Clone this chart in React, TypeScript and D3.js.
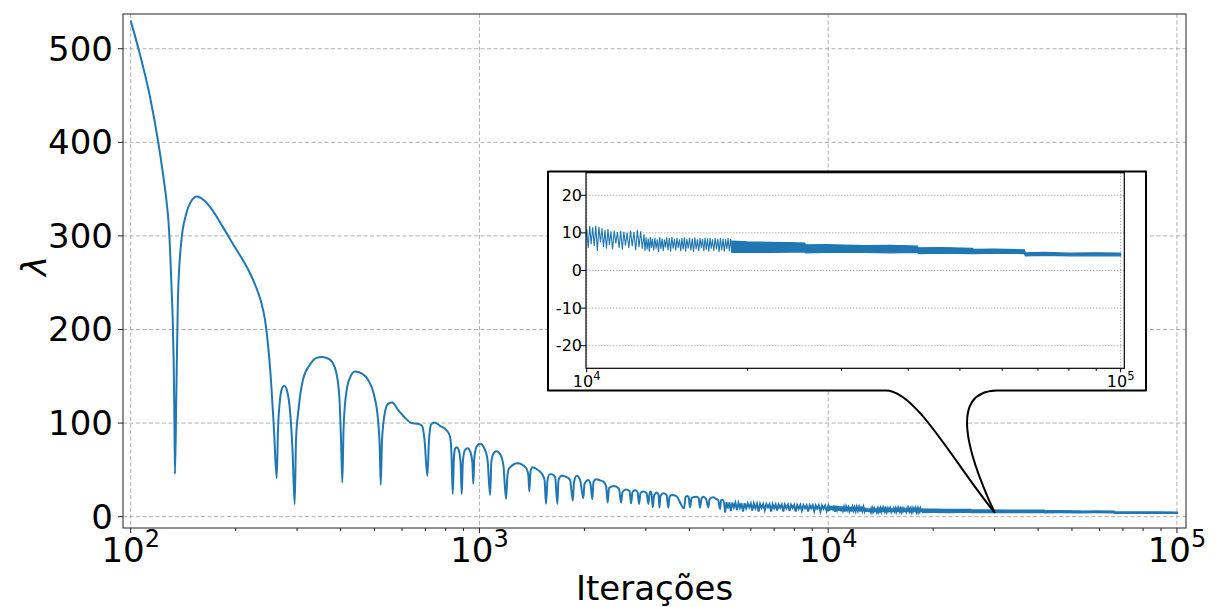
import React from "react";
import * as d3 from "d3";

// ---------- data ----------
const mainIter = [100,105.1,113.6,120,124.1,126.9,128.4,129.7,130.9,132,132.8,133.4,134,135.1,136.6,139.4,144.1,148.9,154.9,162.3,171.1,182.8,199.1,215.6,227.3,236.4,242.7,247.6,252.5,257.6,262.2,264.5,268,272.1,275.7,281.2,286.2,291.1,295.3,297.9,302.8,311.9,326.6,339.8,355.2,372.8,388,397,401,404.5,407.7,414.4,425.5,439.8,460.6,479.2,498.5,511.9,518.1,521.2,525.7,536.2,546.9,562.6,584.2,611.8,639.5,666.7,684.6,696,709,717,726.5,742.5,771,805.8,823.6,831.8,838.4,844.6,851.2,860.8,871.6,882.7,889.7,896.3,909.4,925.8,941.8,954.2,960.5,966.9,981,1004,1031,1055,1073,1082,1096,1119,1149,1172,1192,1204,1218,1286,1360,1381,1390,1401,1420,1463,1507,1537,1552,1568,1589,1612,1648,1673,1686,1722,1772,1819,1852,1868,1901,1943,1986,2001,2052,2082,2107,2124,2159,2218,2266,2307,2333,2353,2432,2514,2547,2573,2633,2694,2721,2748,2794,2840,2869,2897,2951,3014,3051,3074,3095,3119,3140,3167,3224,3263,3281,3306,3368,3440,3481,3509,3560,3662,3862,3899,3931,3978,4018,4057,4199,4250,4291,4334,4386,4465,4534,4570,4686,4770,4834,4898,4931,5006,5063];
const mainLambda = [530,501,448.7,400,363.2,334.8,314.9,284.9,247.5,210,167.4,114,45.6,125,232,290.7,322.8,336.8,342.2,338,328,311,287.8,266.4,248,229.9,210.6,183.8,146.3,92.8,41,92.8,124.9,137.8,139.9,133.5,114.2,71.4,13.3,82,114.2,146.4,162.4,169.4,170.7,167.8,155,125,82,36.4,92.8,130.2,148.5,155,152.8,146.4,130.2,103.5,71.4,34,82.1,112.1,120.6,122,114.2,105.7,100,99.3,97.1,82.1,43.6,82.1,98.2,100.6,97.1,92.1,85.7,66,24.3,60.7,72.5,74.3,71.4,58.6,24.3,58.6,71.4,73.2,69.3,58.6,35,62.8,74.6,77.8,73.6,60.7,23.2,58.6,67.1,70,66.1,54.3,19,44.6,51.8,57.2,52.1,44.6,27,47.9,52.7,50.5,46.3,39.3,13.6,39.3,45.2,45.4,42.5,13.6,39.3,43.6,42.5,39.3,17.1,37.2,43.6,39.3,19.7,35,39.3,35,18.6,37.2,40,38.8,37.5,32.9,15,30.7,32.9,29.7,15,26.4,29.1,27.5,14.3,26.4,28.6,26.4,13.6,25.4,26.8,25.4,13.6,24.3,26.8,23.2,10,22.2,25.7,23.2,9.6,22.2,25,23.2,9.6,21.1,23.2,22.2,9,20.6,22.2,21.1,10,20,21.4,20,9.6,19.5,21.4,19,10,19,20.8,19,17.9,8.2,17.9,17.9,4.7];

// dense oscillation, 5.1e3 .. 1.87e4 (peaks and troughs)
const detailIter = [5063,5110,5160,5210,5260,5310,5365,5420,5475,5530,5585,5640,5700,5760,5820,5880,5940,6000,6060,6120,6185,6250,6315,6380,6445,6510,6580,6650,6720,6790,6860,6930,7000,7070,7140,7210,7285,7360,7435,7510,7590,7670,7750,7830,7910,7990,8070,8150,8235,8320,8405,8490,8580,8670,8760,8850,8940,9030,9120,9210,9300,9400,9500,9600,9700,9800,9900,10000,10065,10130,10195,10260,10330,10400,10470,10540,10610,10680,10750,10820,10890,10960,11030,11100,11180,11260,11340,11420,11500,11580,11660,11740,11820,11900,11990,12080,12170,12260,12350,12440,12530,12620,12710,12800,12860,12920,12980,13040,13100,13160,13220,13280,13350,13420,13490,13560,13630,13700,13770,13840,13910,13980,14050,14120,14200,14280,14360,14440,14520,14600,14680,14760,14840,14920,15000,15080,15160,15240,15320,15400,15490,15580,15670,15760,15850,15940,16030,16120,16210,16300,16390,16480,16570,16660,16750,16840,16930,17020,17110,17200,17300,17400,17500,17600,17700,17800,17900,18000,18100,18200,18300,18400,18500,18600,18700];
const detailLambda = [4.7,15.5,9,15.2,6,15,10,14.8,7,14.6,9.5,14.5,5.5,14.3,9,14.2,10,14,6.5,14,9,13.8,5.5,13.6,9.5,13.5,7,13.4,10,13.3,5.5,13.2,9,13,6.5,13,9.5,12.9,5.5,12.8,9,12.7,6,12.6,9.5,12.5,5.5,12.4,8.5,12.4,6.5,12.3,9,12.2,5.5,12.2,9,12.1,6,12,8.5,12,5.5,11.9,8.5,11.8,6,11.0,6.0,11.8,7.0,11.5,6.5,11.9,5.2,11.6,7.5,11.2,6.2,10.8,5.8,11.0,6.8,10.4,5.6,10.6,7.2,10.2,6.0,10.5,5.5,10.3,6.6,10.1,5.9,10.6,6.4,10.3,5.4,10.8,6.2,10.4,5.8,9.6,5.2,8.8,5.6,8.5,5.0,8.9,6.0,8.4,5.3,8.7,5.8,8.3,4.9,8.9,5.7,8.5,5.2,8.2,6.1,8.8,5.4,8.6,5.0,8.9,5.8,8.4,5.3,8.7,6.0,8.3,5.1,8.6,5.6,8.8,5.0,8.4,5.9,8.7,5.3,8.5,4.9,8.8,5.7,8.3,5.2,8.6,6.0,8.4,5.1,8.7,5.5,8.5,5.0,8.6,5.8,8.3,5.2,8.7,5.6,8.4,4.9,8.6,5.4,8.5,5.0,8.3,5.7,8.6,5.1,8.4,4.9];

// thick noise band, 1.87e4 .. 1e5 (lower / upper edge)
const bandIter = [18700,20000,22000,24000,25600,25700,28000,33000,37000,41600,41800,46000,52800,53000,58000,66000,66300,72000,80000,90000,100000];
const bandLow = [4.8,4.9,4.8,4.9,4.9,4.7,4.8,4.8,4.7,4.8,4.5,4.6,4.5,4.5,4.6,4.5,3.9,4.0,3.9,3.9,3.9];
const bandHigh = [7.8,7.6,7.5,7.4,7.3,6.8,6.9,6.6,6.7,6.5,6.0,6.1,5.9,5.6,5.7,5.5,4.7,4.8,4.6,4.7,4.6];

const mainXTicks = [100, 1000, 10000, 100000];
const mainYTicks = [0, 100, 200, 300, 400, 500];
const insetXTicks = [10000, 100000];
const insetYTicks = [-20, -10, 0, 10, 20];
const xLabel = "Iterações";
const yLabel = "λ";
const calloutTarget = { iter: 30000, lambda: 4.5 };

const BLUE = "#1f77b4";
const FONT = "DejaVu Sans";

function minorTicks(lo: number, hi: number) {
  const out: number[] = [];
  for (let e = Math.floor(Math.log10(lo)); e <= Math.ceil(Math.log10(hi)); e++) {
    for (let m = 2; m <= 9; m++) {
      const v = m * Math.pow(10, e);
      if (v >= lo && v <= hi) out.push(v);
    }
  }
  return out;
}

export default function App() {
  const W = 1219, H = 607;
  // main axes
  const L = 123, R = 1186, T = 14, B = 528;
  const x = d3.scaleLog().domain([Math.pow(10, 1.978), Math.pow(10, 5.026)]).range([L, R]);
  const y = d3.scaleLinear().domain([-12.1, 537.1]).range([B, T]);

  // inset axes
  const iL = 586, iR = 1124.3, iT = 172.7, iB = 368.3;
  const ix = d3.scaleLog().domain([Math.pow(10, 3.9987), Math.pow(10, 5.0068)]).range([iL, iR]);
  const iy = d3.scaleLinear().domain([-26, 26]).range([iB, iT]);

  const mainPts = mainIter.map((v, i) => [v, mainLambda[i]] as [number, number]);
  const detailPts = detailIter.map((v, i) => [v, detailLambda[i]] as [number, number]);
  const band = bandIter.map((v, i) => ({ x: v, lo: bandLow[i], hi: bandHigh[i] }));

  const mkLine = (sx: any, sy: any) => d3.line<[number, number]>().x(d => sx(d[0])).y(d => sy(d[1]));
  const mkSmooth = (sx: any, sy: any) =>
    d3.line<[number, number]>().x(d => sx(d[0])).y(d => sy(d[1])).curve(d3.curveMonotoneX);
  const mkArea = (sx: any, sy: any) =>
    d3.area<{ x: number; lo: number; hi: number }>().x(d => sx(d.x)).y0(d => sy(d.lo)).y1(d => sy(d.hi));

  const mSmooth = mkSmooth(x, y);
  const mLine = mkLine(x, y);
  const mArea = mkArea(x, y);
  const iLine = mkLine(ix, iy);
  const iArea = mkArea(ix, iy);

  const mainMinor = minorTicks(100, 100000).filter(v => ![100, 1000, 10000, 100000].includes(v));
  const insetMinor = minorTicks(10000, 100000).filter(v => ![10000, 100000].includes(v));

  // callout
  const tx = x(calloutTarget.iter), ty = y(calloutTarget.lambda);
  const fL = 548, fR = 1146, fT = 171.5, fB = 390.5;
  const gapL = 886, gapR = 996.7;
  const calloutPath =
    `M ${gapL} ${fB} H ${fL} V ${fT} H ${fR} V ${fB} H ${gapR} ` +
    `C 948 ${fB + 1} 968 455 ${tx} ${ty} ` +
    `C 956 466 916 ${fB} ${gapL} ${fB} Z`;

  const exp = (v: number) => Math.round(Math.log10(v));

  return (
    <svg width={W} height={H} style={{ display: "block", position: "absolute", left: 0, top: 0 }} fontFamily={FONT}>
      <defs>
        <clipPath id="mainClip"><rect x={L} y={T} width={R - L} height={B - T} /></clipPath>
        <clipPath id="insetClip"><rect x={iL} y={iT} width={iR - iL} height={iB - iT} /></clipPath>
      </defs>
      <rect x={0} y={0} width={W} height={H} fill="#fff" />
      {/* main grid */}
      {mainYTicks.map(t => (
        <line key={"gy" + t} x1={L} x2={R} y1={y(t)} y2={y(t)} stroke="#b0b0b0" strokeWidth={1} strokeDasharray="4,2.5" />
      ))}
      {mainXTicks.map(t => (
        <line key={"gx" + t} x1={x(t)} x2={x(t)} y1={T} y2={B} stroke="#b0b0b0" strokeWidth={1} strokeDasharray="4,2.5" />
      ))}
      {/* main data */}
      <g clipPath="url(#mainClip)">
        <path d={mSmooth(mainPts) || ""} fill="none" stroke={BLUE} strokeWidth={2} strokeLinejoin="round" />
        <path d={mLine(detailPts) || ""} fill="none" stroke={BLUE} strokeWidth={2} />
        <path d={mArea(band) || ""} fill={BLUE} stroke={BLUE} strokeWidth={2} />
      </g>
      {/* main spines */}
      <rect x={L} y={T} width={R - L} height={B - T} fill="none" stroke="#222" strokeWidth={1} />
      {/* main ticks */}
      {mainYTicks.map(t => (
        <g key={"ty" + t}>
          <line x1={L - 5} x2={L} y1={y(t)} y2={y(t)} stroke="#222" />
          <text x={L - 10} y={y(t)} textAnchor="end" dominantBaseline="central" fontSize={34}>{t}</text>
        </g>
      ))}
      {mainXTicks.map(t => (
        <g key={"tx" + t}>
          <line x1={x(t)} x2={x(t)} y1={B} y2={B + 5} stroke="#222" />
          <text x={x(t)} y={562} textAnchor="middle" fontSize={34}>
            10<tspan dy={-15} fontSize={24}>{exp(t)}</tspan>
          </text>
        </g>
      ))}
      {mainMinor.map(t => (
        <line key={"mx" + t} x1={x(t)} x2={x(t)} y1={B} y2={B + 3} stroke="#222" />
      ))}
      <text x={(L + R) / 2} y={600} textAnchor="middle" fontSize={34}>{xLabel}</text>
      <text transform={`translate(46,266) rotate(-90)`} textAnchor="middle" fontSize={34} fontStyle="italic">{yLabel}</text>

      {/* callout frame */}
      <path d={calloutPath} fill="#fff" stroke="#000" strokeWidth={2} strokeLinejoin="round" />

      {/* inset */}
      {insetYTicks.map(t => (
        <line key={"igy" + t} x1={iL} x2={iR} y1={iy(t)} y2={iy(t)} stroke="#aaa" strokeWidth={0.9} strokeDasharray="1.5,1.5" />
      ))}
      {insetXTicks.map(t => (
        <line key={"igx" + t} x1={ix(t)} x2={ix(t)} y1={iT} y2={iB} stroke="#aaa" strokeWidth={0.9} strokeDasharray="1.5,1.5" />
      ))}
      <g clipPath="url(#insetClip)">
        <path d={iLine(detailPts) || ""} fill="none" stroke={BLUE} strokeWidth={1.1} />
        <path d={iArea(band) || ""} fill={BLUE} stroke={BLUE} strokeWidth={1.2} />
      </g>
      <rect x={iL} y={iT} width={iR - iL} height={iB - iT} fill="none" stroke="#000" strokeWidth={1.2} />
      {insetYTicks.map(t => (
        <g key={"ity" + t}>
          <line x1={iL - 5} x2={iL} y1={iy(t)} y2={iy(t)} stroke="#000" />
          <text x={iL - 4} y={iy(t)} textAnchor="end" dominantBaseline="central" fontSize={16}>{t}</text>
        </g>
      ))}
      {insetXTicks.map(t => (
        <g key={"itx" + t}>
          <line x1={ix(t)} x2={ix(t)} y1={iB} y2={iB + 4} stroke="#000" />
          <text x={ix(t)} y={386.5} textAnchor="middle" fontSize={16}>
            10<tspan dy={-7} fontSize={11.5}>{exp(t)}</tspan>
          </text>
        </g>
      ))}
      {insetMinor.map(t => (
        <line key={"imx" + t} x1={ix(t)} x2={ix(t)} y1={iB} y2={iB + 2.5} stroke="#000" />
      ))}
    </svg>
  );
}
